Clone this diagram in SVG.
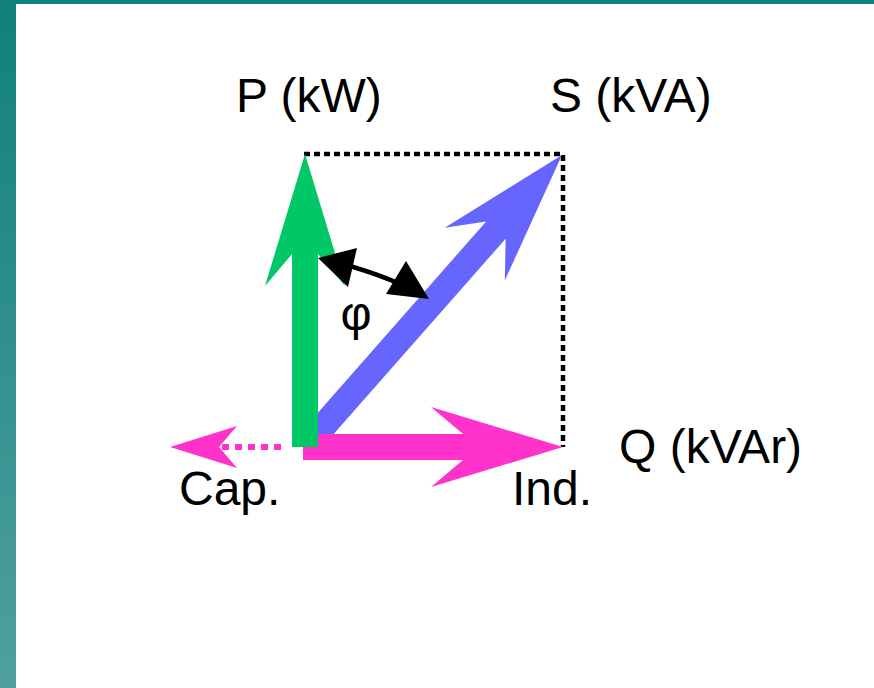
<svg xmlns="http://www.w3.org/2000/svg" width="874" height="688" viewBox="0 0 874 688">
<style>
.lbl{font-family:"Liberation Sans",Arial,sans-serif;font-size:48px;fill:#000}
.phi{font-family:"Liberation Sans",Arial,sans-serif;font-size:48px;fill:#000;text-anchor:middle}
</style>
<defs>
<linearGradient id="bg" x1="0" y1="0" x2="0" y2="1">
<stop offset="0" stop-color="#10807b"/>
<stop offset="1" stop-color="#50a0a0"/>
</linearGradient>
</defs>
<rect x="0" y="0" width="874" height="688" fill="url(#bg)"/>
<rect x="16" y="4" width="858" height="684" fill="#fff"/>
<g id="connectors">
<path id="frame" d="M304 154 H563 V447" fill="none" stroke="#000" stroke-width="4.5" stroke-dasharray="6 4"/>
<path id="S-arrow" d="M0,-13 H289 L257,-40 L389,0 L257,40 L289,13 H0 Z" fill="#6666ff" transform="translate(305,447) rotate(-48.65)"/>
<g id="Q-cap">
<line x1="222" y1="447" x2="286" y2="447" stroke="#ff33cc" stroke-width="6" stroke-dasharray="7 6"/>
<polygon points="170,447 237,426 219,447 237,468" fill="#ff33cc"/>
</g>
<path id="Q-arrow" d="M-2,-13 H158 L126,-40 L258,0 L126,40 L158,13 H-2 Z" fill="#ff33cc" transform="translate(305,447)"/>
<path id="P-arrow" d="M0,-13 H193 L161,-40 L293,0 L161,40 L193,13 H0 Z" fill="#00c866" transform="translate(305,447) rotate(-90)"/>
<g id="phi-arrow">
<path d="M350 266 Q380 275 400 284" fill="none" stroke="#000" stroke-width="4.5"/>
<polygon points="318,258 357,248 348,287" fill="#000"/>
<polygon points="429,299 386,294 406,261" fill="#000"/>
</g>
</g>
<g id="phi"><text class="phi" x="356" y="330">φ</text></g>
<g id="P"><text class="lbl" x="236" y="112">P (kW)</text></g>
<g id="S"><text class="lbl" x="550" y="112">S (kVA)</text></g>
<g id="Q"><text class="lbl" x="619" y="463">Q (kVAr)</text></g>
<g id="Cap"><text class="lbl" x="179" y="505">Cap.</text></g>
<g id="Ind"><text class="lbl" x="512" y="505">Ind.</text></g>
</svg>
